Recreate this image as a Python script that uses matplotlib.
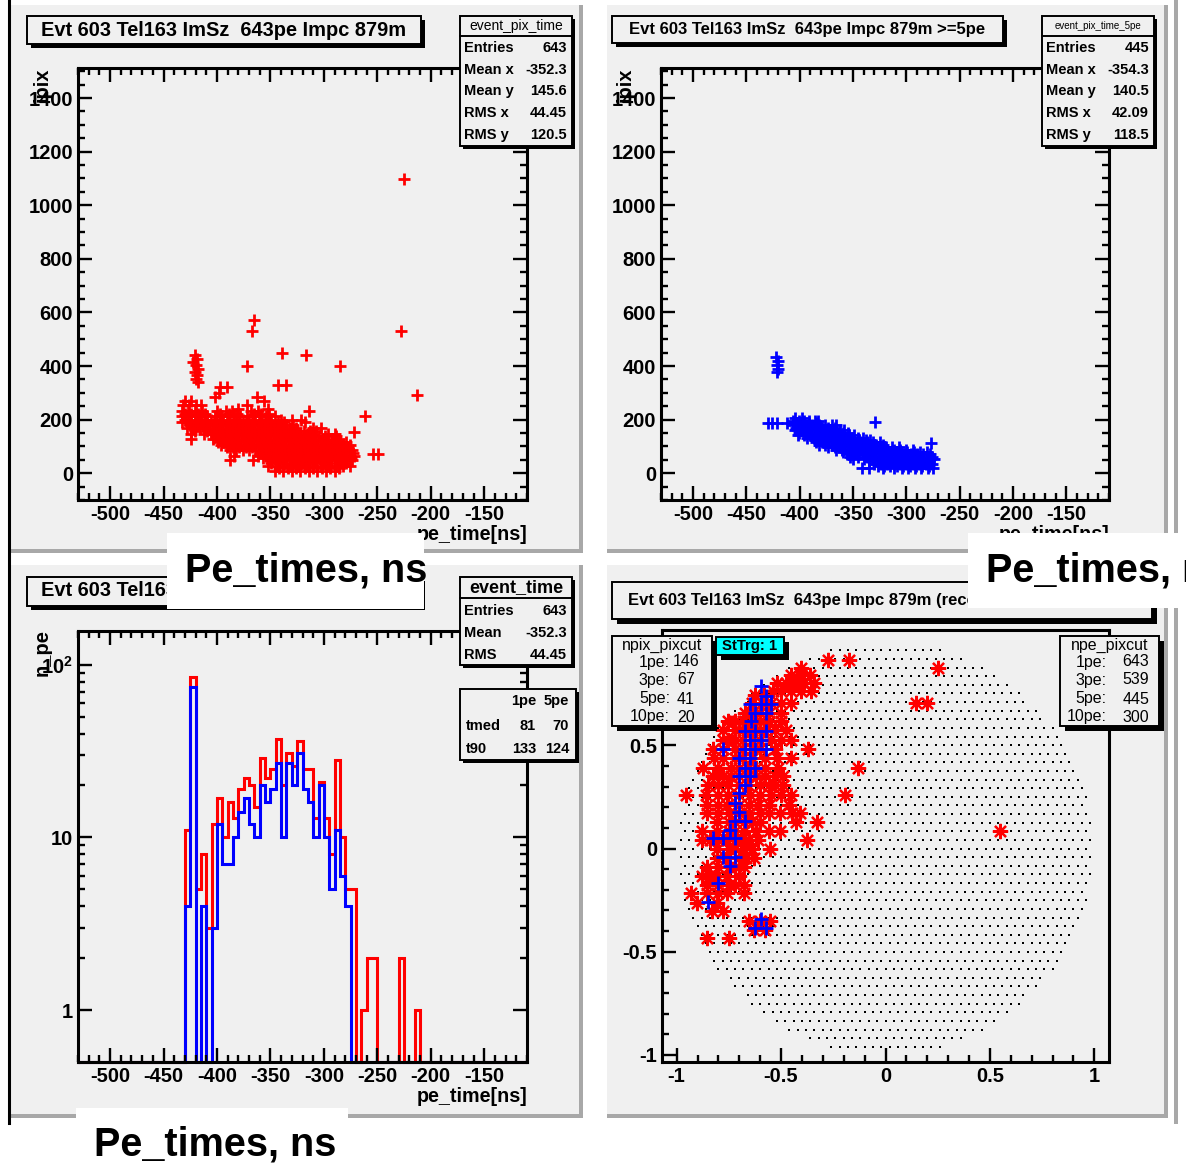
import numpy as np
import matplotlib.pyplot as plt
from matplotlib.patches import Rectangle
from matplotlib.ticker import MultipleLocator, FixedLocator, FixedFormatter, FuncFormatter

W, H = 1186, 1165
PAD = '#f0f0f0'
RED = '#ff0000'
BLUE = '#0000ff'

plt.rcParams['font.family'] = ['Liberation Sans', 'DejaVu Sans']
plt.rcParams['font.weight'] = 'bold'
plt.rcParams['axes.unicode_minus'] = False
plt.rcParams['mathtext.default'] = 'regular'

# pe arrival time [ns] per pixel id, pixels with >=1 pe  (pix, [times])
pix_rows_all = [
    (1098, [-225]),
    (571, [-365]),
    (532, [-367, -228]),
    (447, [-339]),
    (440, [-421, -317]),
    (428, [-419]),
    (415, [-422]),
    (402, [-420]),
    (400, [-372, -285]),
    (390, [-418]),
    (378, [-421]),
    (365, [-419]),
    (352, [-420]),
    (342, [-418]),
    (329, [-343, -335]),
    (320, [-397, -391]),
    (300, [-398]),
    (290, [-213]),
    (285, [-402, -363]),
    (268, [-430, -424, -356]),
    (255, [-432, -426, -420, -415, -372]),
    (240, [-380, -352]),
    (231, [-433, -427, -421, -414, -400, -392, -386, -368, -362, -314]),
    (222, [-430, -424, -418, -411, -397, -389, -381, -365, -359, -351]),
    (213, [-433, -427, -421, -415, -409, -402, -396, -390, -384, -378, -372, -366, -360, -354, -346, -262]),
    (200, [-430, -424, -418, -412, -406, -400, -394, -388, -382, -376, -370, -364, -358, -352, -340, -330, -321]),
    (190, [-433, -427, -421, -415, -409, -403, -397, -391, -385, -379, -373, -367, -361, -355, -349, -343, -337, -318]),
    (178, [-425, -419, -413, -407, -401, -395, -389, -383, -377, -371, -365, -359, -353, -347, -341, -335, -329]),
    (168, [-428, -422, -416, -410, -404, -398, -392, -386, -380, -374, -368, -362, -356, -350, -344, -338, -332, -326, -310, -303]),
    (157, [-421, -409, -403, -397, -391, -385, -379, -373, -367, -361, -355, -349, -343, -337, -331, -325, -319, -313, -307]),
    (153, [-272]),
    (146, [-424, -412, -406, -400, -394, -388, -382, -376, -370, -364, -358, -352, -346, -340, -334, -328, -322, -316, -310, -296, -290]),
    (137, [-401, -395, -389, -383, -377, -371, -365, -359, -353, -347, -341, -335, -329, -323, -317, -311, -305, -299, -289]),
    (128, [-424, -404, -398, -392, -386, -380, -374, -368, -362, -356, -350, -344, -338, -332, -326, -320, -314, -308, -302, -292, -286]),
    (117, [-399, -393, -387, -381, -375, -369, -363, -357, -351, -345, -339, -333, -327, -321, -315, -309, -303, -297, -291, -285, -279]),
    (106, [-396, -390, -384, -378, -372, -366, -360, -354, -348, -342, -336, -330, -324, -318, -312, -306, -300, -294, -288, -282, -276]),
    (96, [-391, -385, -379, -373, -367, -361, -355, -349, -343, -337, -331, -325, -319, -313, -307, -301, -295, -289, -283, -277]),
    (86, [-388, -382, -376, -370, -364, -358, -352, -346, -340, -334, -328, -322, -316, -310, -304, -298, -292, -286, -280, -274]),
    (76, [-359, -351, -345, -339, -333, -327, -321, -315, -309, -303, -297, -291, -285, -279, -273]),
    (71, [-254, -249]),
    (66, [-384, -362, -354, -348, -342, -336, -330, -324, -318, -312, -306, -300, -294, -288, -282, -276, -272]),
    (58, [-357, -347, -341, -335, -329, -323, -317, -311, -305, -299, -293, -287, -281, -275]),
    (50, [-388, -366, -350, -344, -338, -332, -326, -320, -314, -308, -302, -296, -290, -284, -278, -274]),
    (38, [-349, -342, -335, -328, -321, -314, -307, -300, -293, -286, -279]),
    (28, [-352, -345, -338, -331, -324, -317, -310, -303, -296, -289, -282, -276]),
    (18, [-342, -334, -326, -318, -310, -302, -294, -286]),
    (8, [-346, -338, -330, -322, -314, -306, -298, -290]),
]

# same for pixels with >=5 pe
pix_rows_5pe = [
    (432, [-422]),
    (418, [-420]),
    (402, [-421]),
    (388, [-420]),
    (378, [-421]),
    (205, [-404, -398]),
    (195, [-406, -401, -396, -391, -386, -383]),
    (191, [-329]),
    (187, [-403, -397, -391, -385]),
    (186, [-430, -426, -421, -412]),
    (178, [-406, -400, -394, -388, -382, -376, -370, -366]),
    (169, [-403, -397, -391, -385, -379, -373, -367]),
    (160, [-404, -398, -392, -386, -380, -374, -368, -362, -358]),
    (151, [-401, -395, -389, -383, -377, -371, -365, -359, -355]),
    (142, [-402, -396, -390, -384, -378, -372, -366, -360, -354, -349]),
    (133, [-393, -387, -381, -375, -369, -363, -357, -351, -345, -341]),
    (124, [-386, -380, -374, -368, -362, -356, -350, -344, -338, -334]),
    (115, [-385, -379, -373, -367, -361, -355, -349, -343, -337, -331, -325]),
    (114, [-277]),
    (106, [-382, -376, -370, -364, -358, -352, -346, -340, -334, -328, -322]),
    (97, [-373, -367, -361, -355, -349, -343, -337, -331, -325, -319, -313, -307]),
    (88, [-366, -360, -354, -348, -342, -336, -330, -324, -318, -312, -306, -300, -294]),
    (79, [-359, -353, -347, -341, -335, -329, -323, -317, -311, -305, -299, -293, -287, -281]),
    (70, [-356, -350, -344, -338, -332, -326, -320, -314, -308, -302, -296, -290, -284, -278]),
    (61, [-353, -345, -337, -329, -323, -317, -311, -305, -299, -293, -287, -281, -276]),
    (52, [-350, -340, -332, -326, -320, -314, -308, -302, -296, -290, -284, -278, -274]),
    (44, [-335, -327, -321, -315, -309, -303, -297, -291, -285, -279]),
    (35, [-330, -324, -318, -312, -306, -300, -294, -288, -282, -276]),
    (27, [-327, -321, -315, -309, -303, -297, -291, -285, -279]),
    (20, [-342, -335, -322, -312, -304, -298, -292, -286, -280, -275]),
]

# event_time histogram: 5 ns bins, first filled bin starts at -430 ns
hist_lo, hist_hi, bin_w = -530, -110, 5
first_bin = -430
counts_1pe = [11, 85, 5, 8, 3, 12, 17, 10, 16, 13, 19, 22, 20, 15, 29, 22, 25, 37, 20, 31,
              26, 36, 25, 25, 13, 21, 13, 8, 28, 10, 5, 5, 0, 1, 2, 2, 0, 0, 0, 0,
              2, 0, 0, 1]
counts_5pe = [4, 74, 0, 4, 0, 3, 12, 7, 7, 10, 14, 17, 12, 10, 20, 16, 19, 27, 10, 27,
              20, 31, 19, 16, 10, 20, 10, 5, 11, 6, 4]

# camera image: hit pixel centres, >=1 pe  (y, [x])
cam_rows_1pe = [
    (0.913, [-0.276, -0.175]),
    (0.875, [-0.404, 0.249]),
    (0.843, [-0.451, -0.404, -0.360]),
    (0.803, [-0.520, -0.475, -0.430, -0.390, -0.340]),
    (0.762, [-0.540, -0.500, -0.451, -0.404, -0.356]),
    (0.746, [-0.627, -0.580]),
    (0.706, [-0.640, -0.590, -0.550, -0.499, -0.451, 0.148, 0.200]),
    (0.657, [-0.675, -0.640, -0.600, -0.560, -0.499]),
    (0.617, [-0.754, -0.722, -0.680, -0.640, -0.600, -0.560, -0.499]),
    (0.576, [-0.778, -0.722, -0.700, -0.660, -0.620, -0.580, -0.531, -0.475]),
    (0.528, [-0.780, -0.754, -0.722, -0.680, -0.640, -0.600, -0.550, -0.499, -0.451]),
    (0.484, [-0.826, -0.778, -0.722, -0.680, -0.640, -0.600, -0.531, -0.372]),
    (0.439, [-0.820, -0.778, -0.722, -0.680, -0.640, -0.579, -0.520, -0.451]),
    (0.393, [-0.874, -0.800, -0.740, -0.700, -0.660, -0.620, -0.579, -0.515, -0.132]),
    (0.350, [-0.826, -0.778, -0.740, -0.700, -0.660, -0.620, -0.579, -0.531, -0.490]),
    (0.309, [-0.850, -0.800, -0.754, -0.700, -0.660, -0.600, -0.560, -0.531, -0.490]),
    (0.261, [-0.954, -0.860, -0.800, -0.754, -0.700, -0.650, -0.600, -0.550, -0.499, -0.451, -0.196]),
    (0.213, [-0.855, -0.800, -0.760, -0.703, -0.655, -0.610, -0.560, -0.460]),
    (0.172, [-0.855, -0.800, -0.751, -0.700, -0.655, -0.600, -0.560, -0.504, -0.450, -0.408]),
    (0.127, [-0.807, -0.751, -0.720, -0.679, -0.640, -0.600, -0.430, -0.328]),
    (0.083, [-0.880, -0.807, -0.751, -0.720, -0.679, -0.620, -0.560, -0.504, 0.550]),
    (0.043, [-0.880, -0.840, -0.800, -0.760, -0.720, -0.690, -0.655, -0.610, -0.376]),
    (-0.003, [-0.807, -0.751, -0.720, -0.679, -0.640, -0.552]),
    (-0.047, [-0.807, -0.760, -0.703, -0.670, -0.631]),
    (-0.090, [-0.855, -0.800, -0.751, -0.720, -0.679]),
    (-0.132, [-0.880, -0.840, -0.807, -0.760, -0.703]),
    (-0.176, [-0.855, -0.800, -0.751, -0.720, -0.679]),
    (-0.216, [-0.930, -0.855, -0.800, -0.760, -0.679]),
    (-0.265, [-0.903, -0.807]),
    (-0.305, [-0.830, -0.780]),
    (-0.349, [-0.655, -0.600, -0.552]),
    (-0.394, [-0.631, -0.576]),
    (-0.434, [-0.855, -0.751]),
]

# hit pixels with >=5 pe
cam_5pe_x = [-0.595, -0.571, -0.651, -0.595, -0.547, -0.627, -0.571, -0.643, -0.675, -0.627,
             -0.571, -0.651, -0.595, -0.778, -0.675, -0.627, -0.571, -0.699, -0.651, -0.675,
             -0.627, -0.699, -0.651, -0.675, -0.699, -0.722, -0.699, -0.722, -0.675, -0.746,
             -0.826, -0.778, -0.722, -0.778, -0.722, -0.746, -0.802, -0.850, -0.595, -0.627,
             -0.571]
cam_5pe_y = [0.790, 0.741, 0.700, 0.700, 0.700, 0.657, 0.657, 0.617, 0.571, 0.571,
             0.571, 0.528, 0.528, 0.484, 0.484, 0.484, 0.484, 0.438, 0.438, 0.393,
             0.393, 0.350, 0.350, 0.309, 0.268, 0.220, 0.176, 0.134, 0.134, 0.091,
             0.050, 0.050, 0.050, -0.039, -0.039, -0.083, -0.168, -0.257, -0.341, -0.387,
             -0.387]

# camera geometry (offset rows of pixels inside a circle)
cam_pitch_x = 0.04
cam_pitch_y = 0.0418
cam_half_rows = 23
cam_radius = 0.996

title = 'Evt 603 Tel163 ImSz  643pe Impc 879m'
stats_all = [('Entries', '643'), ('Mean x', '-352.3'), ('Mean y', '145.6'),
             ('RMS x', '44.45'), ('RMS y', '120.5')]
stats_5pe = [('Entries', '445'), ('Mean x', '-354.3'), ('Mean y', '140.5'),
             ('RMS x', '42.09'), ('RMS y', '118.5')]
stats_time = [('Entries', '643'), ('Mean', '-352.3'), ('RMS', '44.45')]
tmed_rows = [('', '1pe', '5pe'), ('tmed', '81', '70'), ('t90', '133', '124')]
npix_cut = [('1pe:', '146'), ('3pe:', '67'), ('5pe:', '41'), ('10pe:', '20')]
npe_cut = [('1pe:', '643'), ('3pe:', '539'), ('5pe:', '445'), ('10pe:', '300')]


def unpack(rows):
    xs, ys = [], []
    for key, vals in rows:
        xs += vals
        ys += [key] * len(vals)
    return np.array(xs, float), np.array(ys, float)


def px_rect(x0, y0, x1, y1):
    return [x0 / W, 1 - y1 / H, (x1 - x0) / W, (y1 - y0) / H]


fig = plt.figure(figsize=(W / 100, H / 100), dpi=100)
fig.patch.set_facecolor('white')

# canvas + pads
bg = fig.add_axes([0, 0, 1, 1], zorder=0)
bg.set_xlim(0, W)
bg.set_ylim(H, 0)
bg.axis('off')
pads = [(11, 5, 583, 553), (607, 5, 1168, 553), (11, 565, 583, 1118), (607, 565, 1168, 1118)]
for x0, y0, x1, y1 in pads:
    bg.add_patch(Rectangle((x0, y0), x1 - x0, y1 - y0, fc=PAD, ec='none'))
    bg.add_patch(Rectangle((x0, y1 - 4), x1 - x0, 4, fc='#a8a8a8', ec='none'))
    bg.add_patch(Rectangle((x1 - 4, y0), 4, y1 - y0, fc='#a8a8a8', ec='none'))
bg.add_patch(Rectangle((1174, 0), 4, 1124, fc='#a8a8a8', ec='none'))
bg.plot([8.5, 8.5], [0, 1123], color='black', lw=2.2)


def frame(rect, top=True, right=True):
    ax = fig.add_axes(px_rect(*rect), zorder=1)
    ax.set_facecolor(PAD)
    for s in ax.spines.values():
        s.set_linewidth(2.2)
    ax.tick_params(which='both', direction='in', top=top, right=right, width=1.7,
                   labelsize=14.5, pad=3.5)
    ax.tick_params(which='major', length=10)
    ax.tick_params(which='minor', length=5)
    return ax


def time_axes(ax):
    ax.set_xlim(hist_lo, hist_hi)
    ax.xaxis.set_major_locator(MultipleLocator(50))
    ax.xaxis.set_minor_locator(MultipleLocator(10))


# pad 1: time vs pixel, all pe
ax1 = frame((78, 68, 527, 500))
t, p = unpack(pix_rows_all)
ax1.plot(t, p, ls='none', marker='+', ms=9, mew=2.0, color=RED)
time_axes(ax1)
ax1.set_ylim(-100, 1512)
ax1.yaxis.set_major_locator(MultipleLocator(200))
ax1.yaxis.set_minor_locator(MultipleLocator(50))

# pad 2: time vs pixel, >=5 pe
ax2 = frame((661, 68, 1109, 500))
t, p = unpack(pix_rows_5pe)
ax2.plot(t, p, ls='none', marker='+', ms=9, mew=2.0, color=BLUE)
time_axes(ax2)
ax2.set_ylim(-100, 1512)
ax2.yaxis.set_major_locator(MultipleLocator(200))
ax2.yaxis.set_minor_locator(MultipleLocator(50))

# pad 3: event_time histograms
ax3 = frame((78, 631, 527, 1062))
edges = np.arange(hist_lo, hist_hi + bin_w, bin_w)
i0 = int((first_bin - hist_lo) / bin_w)
for counts, col in [(counts_1pe, RED), (counts_5pe, BLUE)]:
    full = np.zeros(len(edges) - 1)
    full[i0:i0 + len(counts)] = counts
    full = np.where(full > 0, full, 0.5)
    ax3.stairs(full, edges, baseline=None, color=col, lw=2.2, clip_on=False)
ax3.set_yscale('log')
ax3.set_ylim(0.5, 157)
time_axes(ax3)
ax3.yaxis.set_major_locator(FixedLocator([1, 10, 100]))
ax3.yaxis.set_major_formatter(FixedFormatter(['1', '10', '$10^{2}$']))
ax3.yaxis.set_minor_locator(FixedLocator([d * m for d in (1, 10, 100) for m in range(2, 10)]))

# pad 4: camera image
ax4 = frame((662, 630, 1109, 1062), top=False, right=False)
gx, gy = [], []
for k in range(-cam_half_rows, cam_half_rows + 1):
    y = k * cam_pitch_y
    off = 0.5 * cam_pitch_x * (k % 2)
    for i in range(-30, 31):
        x = i * cam_pitch_x + off
        if x * x + y * y <= cam_radius ** 2:
            gx.append(x)
            gy.append(y)
ax4.plot(gx, gy, ls='none', marker='s', ms=1.8, mew=0, color='black')
cx, cy = unpack(cam_rows_1pe)
ax4.plot(cx, cy, ls='none', marker=(8, 2, 0), ms=11, mew=1.6, color=RED)
ax4.plot(cam_5pe_x, cam_5pe_y, ls='none', marker='+', ms=9.5, mew=2.0, color=BLUE)
ax4.set_xlim(-1.07, 1.07)
ax4.set_ylim(-1.035, 1.06)
for a in (ax4.xaxis, ax4.yaxis):
    a.set_major_locator(MultipleLocator(0.5))
    a.set_minor_locator(MultipleLocator(0.1))
    a.set_major_formatter(FuncFormatter(lambda v, _: '%g' % round(v, 2)))

# boxes, titles, labels
fg = fig.add_axes([0, 0, 1, 1], zorder=2)
fg.set_xlim(0, W)
fg.set_ylim(H, 0)
fg.axis('off')
fg.patch.set_alpha(0)


def box(x0, y0, x1, y1, fc=PAD, sh=3):
    fg.add_patch(Rectangle((x0 + sh, y0 + sh), x1 - x0, y1 - y0, fc='black', ec='none', zorder=4))
    fg.add_patch(Rectangle((x0, y0), x1 - x0, y1 - y0, fc=fc, ec='black', lw=1.4, zorder=4))


def txt(x, y, s, size, ha='left', weight='bold', **kw):
    fg.text(x, y, s, fontsize=size, ha=ha, va='center', fontweight=weight, zorder=5, **kw)


def stats_box(x0, y0, x1, y1, head, head_size, rows, line_y, row_y):
    box(x0, y0, x1, y1)
    fg.plot([x0, x1], [line_y, line_y], color='black', lw=1.4, zorder=4.5)
    txt((x0 + x1) / 2, (y0 + line_y) / 2, head, head_size, ha='center',
        weight='bold' if head_size > 11 else 'normal')
    for (lab, val), yy in zip(rows, row_y):
        txt(x0 + 4, yy, lab, 10.5)
        txt(x1 - 5, yy, val, 10.5, ha='right')


def axis_title(x, y, s, rotated=False):
    if rotated:
        fg.text(x, y, s, fontsize=14.5, rotation=90, ha='center', va='top', zorder=3)
    else:
        fg.text(x, y, s, fontsize=14.2, ha='right', va='center', zorder=3)


# pad 1
box(27, 16, 421, 44, sh=4)
txt(224, 30, title, 14.4, ha='center')
stats_box(460, 16, 572, 146, 'event_pix_time', 10, stats_all, 36, [48, 70, 91, 113, 135])
axis_title(42, 68, 'ipix', rotated=True)
axis_title(527, 535, 'pe_time[ns]')

# pad 2
box(612, 16, 1003, 43, sh=4)
txt(807, 29.5, title + ' >=5pe', 12, ha='center')
stats_box(1042, 16, 1154, 146, 'event_pix_time_5pe', 7, stats_5pe, 36, [48, 70, 91, 113, 135])
axis_title(625, 68, 'ipix', rotated=True)
axis_title(1109, 535, 'pe_time[ns]')

# pad 3
box(27, 577, 421, 606, sh=4)
txt(224, 591, title, 14.4, ha='center')
stats_box(460, 577, 572, 665, 'event_time', 13, stats_time, 598, [611, 633, 655])
box(460, 689, 576, 760)
for (a, b, c), yy in zip(tmed_rows, [701, 726, 749]):
    txt(466, yy, a, 10.5)
    txt(536, yy, b, 10.5, ha='right')
    txt(569, yy, c, 10.5, ha='right')
axis_title(42, 629, 'n_pe', rotated=True)
axis_title(527, 1096, 'pe_time[ns]')

# pad 4
box(612, 582, 1152, 619, sh=5)
txt(628, 600, title + ' (reco)', 12)
box(612, 636, 712, 726, sh=5)
txt(662, 645, 'npix_pixcut', 11.5, ha='center', weight='normal')
for (lab, val), yy in zip(npix_cut, [662, 680, 699, 717]):
    txt(670, yy, lab, 11.5, ha='right', weight='normal')
    txt(686, yy, val, 11.5, ha='center', weight='normal')
box(716, 637, 784, 655, fc='#00ffff', sh=5)
txt(750, 646, 'StTrg: 1', 10.7, ha='center')
box(1060, 636, 1159, 726, sh=5)
txt(1110, 645, 'npe_pixcut', 11.5, ha='center', weight='normal')
for (lab, val), yy in zip(npe_cut, [662, 680, 699, 717]):
    txt(1107, yy, lab, 11.5, ha='right', weight='normal')
    txt(1136, yy, val, 11.5, ha='center', weight='normal')

# slide captions on top
for (x0, y0, x1, y1), (tx, ty) in [((167, 533, 424, 609), (185, 581)),
                                   ((968, 533, 1186, 608), (986, 581)),
                                   ((76, 1108, 348, 1165), (94, 1156))]:
    fg.add_patch(Rectangle((x0, y0), x1 - x0, y1 - y0, fc='white', ec='none', zorder=10))
    fg.text(tx, ty, 'Pe_times, ns', fontsize=28.5, fontweight='bold', ha='left',
            va='baseline', zorder=11, clip_on=False)

fig.savefig('out.png', dpi=100, facecolor='white')
